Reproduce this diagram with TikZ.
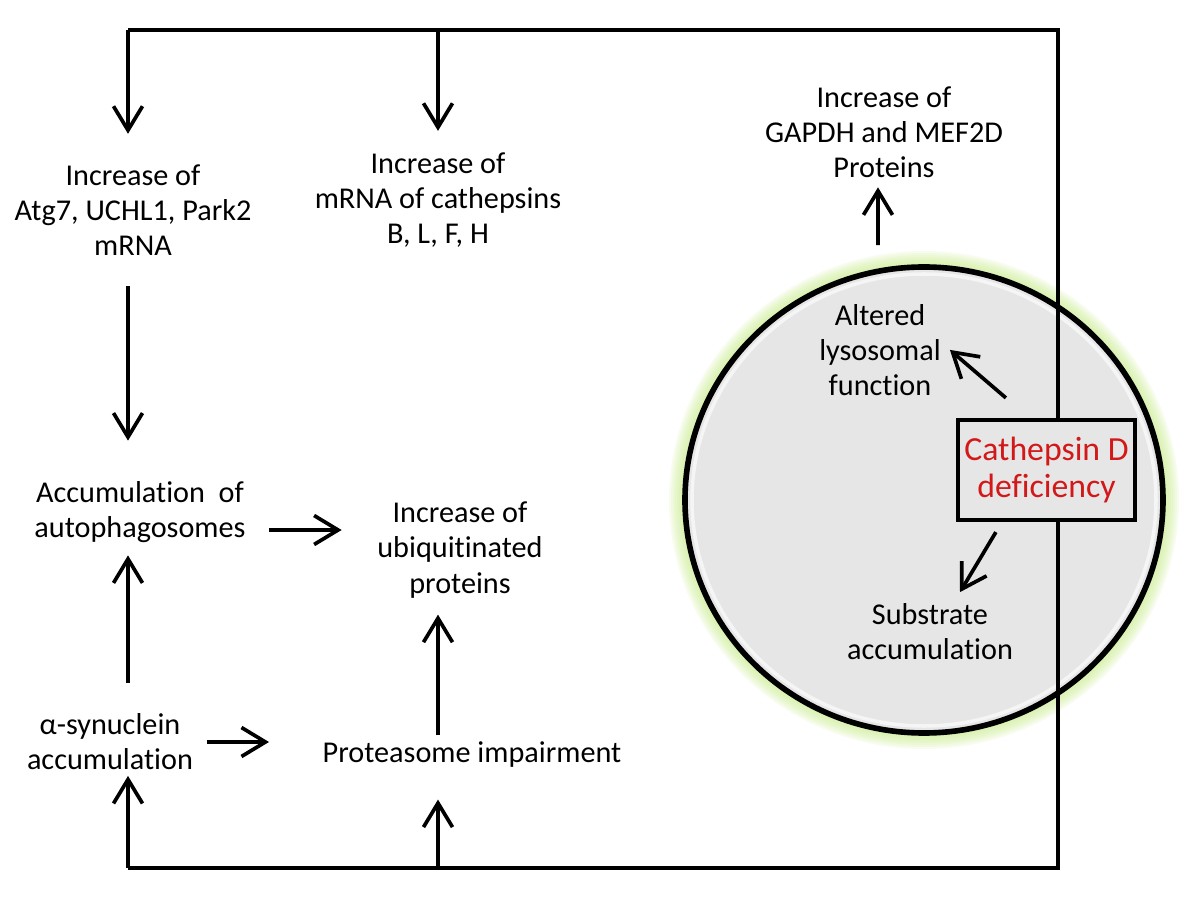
\documentclass[tikz,border=0pt]{standalone}
\usepackage{fontspec}
\setmainfont{Carlito}[Ligatures=NoCommon]
\usetikzlibrary{arrows.meta,positioning,calc,shapes.geometric}

\definecolor{cellgray}{RGB}{230,230,230}
\definecolor{glowgreen}{RGB}{200,235,140}
\definecolor{cdred}{RGB}{210,24,24}

\begin{document}
\begin{tikzpicture}[
    txt/.style={align=center,inner sep=0pt,font=\fontsize{8.6}{10}\selectfont},
    arr/.style={-{Straight Barb[length=2.4mm,width=2.9mm]},line width=1.05pt},
    loopline/.style={line width=1.05pt}]
\useasboundingbox (0,0) rectangle (12,9);

% lysosome with a soft green glow
\foreach \i in {1,...,8}
    \fill[glowgreen,opacity=0.14] (9.24,4.00) ellipse ({2.39+0.02*\i} and {2.33+0.02*\i});
\node[ellipse,draw,line width=1.6pt,fill=cellgray,minimum width=4.78cm,minimum height=4.66cm,inner sep=0pt] (lyso) at (9.24,4.00) {};
\draw[white,opacity=0.6,line width=1pt] (lyso.center) ellipse (2.32 and 2.26);

% feedback loop
\coordinate (tl) at (1.28,8.70);
\coordinate (tm) at (4.38,8.70);
\coordinate (tr) at (10.58,8.70);
\coordinate (bl) at (1.28,0.32);
\coordinate (bm) at (4.38,0.32);
\coordinate (br) at (10.58,0.32);
\draw[loopline] (tl) -- (tr) -- (br) -- (bl);

\node[txt] (atg) at (1.33,6.90) {Increase of\\Atg7, UCHL1, Park2\\mRNA};
\node[txt] (cath) at (4.38,7.00) {Increase of\\mRNA of cathepsins\\B, L, F, H};
\node[txt] (gapdh) at (8.84,7.68) {Increase of\\GAPDH and MEF2D\\Proteins};
\node[txt] (autoph) at (1.40,3.88) {Accumulation\ \ of\\autophagosomes};
\node[txt] (ubiq) at (4.60,3.50) {Increase of\\ubiquitinated\\proteins};
\node[txt] (syn) at (1.10,1.58) {α-synuclein\\accumulation};
\node[txt] (prot) at (4.72,1.45) {Proteasome impairment};
\node[txt] (alt) at (8.80,5.50) {Altered\\lysosomal\\function};
\node[txt] (sub) at (9.30,2.68) {Substrate\\accumulation};
\node[draw,line width=1.2pt,fill=cellgray,minimum width=1.77cm,minimum height=1.00cm,
      inner sep=0pt,align=center,text=cdred,font=\fontsize{9.6}{10.6}\selectfont] (cd) at (10.465,4.30) {Cathepsin D\\deficiency};

% arrows
\draw[arr,shorten >=0.30cm] (tl) -- (atg.north -| tl);
\draw[arr,shorten >=0.21cm] (tm) -- (cath.north -| tm);
\draw[arr,shorten <=0.30cm,shorten >=0.40cm] (atg.south -| tl) -- (autoph.north -| tl);
\draw[arr,shorten <=0.30cm,shorten >=0.12cm] (syn.north -| tl) -- (autoph.south -| tl);
\draw[arr,shorten >=0.05cm] (bl) -- (syn.south -| bl);
\draw[arr,shorten <=0.06cm,shorten >=0.16cm] (prot.north -| tm) -- (ubiq.south -| tm);
\draw[arr,shorten >=0.31cm] (bm) -- (prot.south -| bm);
\draw[arr,shorten <=0.23cm,shorten >=0.35cm] ([yshift=-0.18cm]autoph.east) -- ([yshift=-0.18cm]autoph.east -| ubiq.west);
\draw[arr,shorten <=0.13cm,shorten >=0.53cm] (syn.east) -- (syn.east -| prot.west);
\draw[arr] ([shift={(-0.46,0.19)}]lyso.north) -- ([xshift=-0.06cm,yshift=-0.09cm]gapdh.south);
\draw[arr] ([shift={(0.50,0.20)}]cd.north west) -- ([shift={(-0.06,0.68)}]cd.north west);
\draw[arr] ([shift={(0.40,-0.10)}]cd.south west) -- ([shift={(0.30,0.11)}]sub.north);
\end{tikzpicture}
\end{document}
